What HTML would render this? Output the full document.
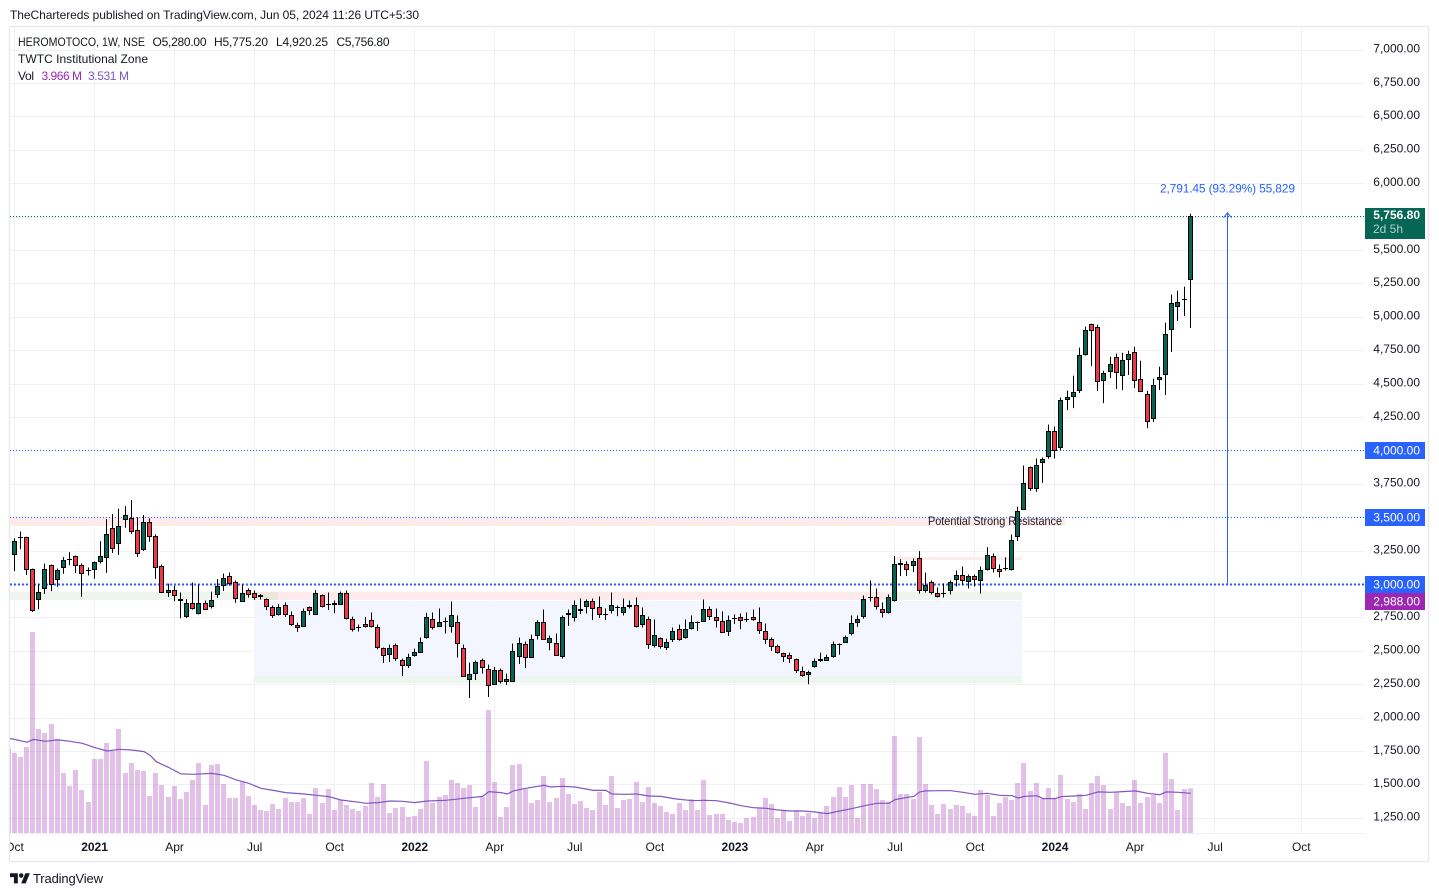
<!DOCTYPE html>
<html lang="en">
<head>
<meta charset="utf-8">
<title>HEROMOTOCO weekly chart</title>
<style>
html,body{margin:0;padding:0;background:#fff;width:1439px;height:896px;overflow:hidden}
svg{display:block;position:absolute;left:0;top:0}
text{font-family:"Liberation Sans",sans-serif;font-size:12px;fill:#131722}
</style>
</head>
<body>
<svg id="root" width="1439" height="896" viewBox="0 0 1439 896" xmlns="http://www.w3.org/2000/svg">
  <defs>
    <clipPath id="pane-clip"><rect x="10" y="27" width="1355" height="806"/></clipPath>
    <clipPath id="time-clip"><rect x="10" y="835" width="1355" height="25"/></clipPath>
  </defs>
  <text x="10" y="19" textLength="409" lengthAdjust="spacing">TheChartereds published on TradingView.com, Jun 05, 2024 11:26 UTC+5:30</text>
  <rect x="9.5" y="26.5" width="1419" height="835" fill="none" stroke="#e8eaf0" stroke-width="1.5"/>

  <g id="grid"></g>
  <g clip-path="url(#pane-clip)">
    <g>
      <rect x="10" y="517" width="1055" height="9" fill="#fdebec"/>
      <rect x="10" y="592" width="268" height="8" fill="#edf5ee"/>
      <rect x="254" y="592" width="24" height="8" fill="#ece6dc"/>
      <rect x="278" y="592" width="616" height="8" fill="#fdebec"/>
      <rect x="894" y="592" width="128" height="8" fill="#edf5ee"/>
      <rect x="894" y="557" width="128" height="3" fill="#fdebec"/>
      <rect x="254" y="601" width="768" height="75" fill="#f3f6fe"/>
      <rect x="254" y="676" width="768" height="7" fill="#edf5ee"/>
      <text x="928" y="525" textLength="134" lengthAdjust="spacingAndGlyphs">Potential Strong Resistance</text>
    </g>
    <g id="volume"></g>
    <polyline id="vol-ma" fill="none" stroke="#7e57c2" stroke-width="1.2"></polyline>
    <g id="levels"></g>
    <g id="candles"></g>
    <g>
      <line id="range-line" x1="1227.5" x2="1227.5" stroke="#2962ff" stroke-width="1"/>
      <polyline id="range-head" fill="none" stroke="#2962ff" stroke-width="1"/>
      <text x="1160" y="192.6" textLength="135" lengthAdjust="spacing" style="fill:#2962ff">2,791.45 (93.29%) 55,829</text>
    </g>
  </g>

  <rect x="10" y="833" width="1355" height="1" fill="#eef0f5"/>
  <g id="price-axis"></g>
  <g id="price-tags"></g>
  <g id="time-axis" clip-path="url(#time-clip)"></g>

  <g>
    <text x="18" y="46" textLength="127" lengthAdjust="spacingAndGlyphs">HEROMOTOCO, 1W, NSE</text>
    <text x="152.5" y="46" textLength="54" lengthAdjust="spacing">O5,280.00</text>
    <text x="214" y="46" textLength="54" lengthAdjust="spacing">H5,775.20</text>
    <text x="276" y="46" textLength="52" lengthAdjust="spacing">L4,920.25</text>
    <text x="336.5" y="46" textLength="53" lengthAdjust="spacing">C5,756.80</text>
    <text x="18" y="63" textLength="130" lengthAdjust="spacing">TWTC Institutional Zone</text>
    <text x="18" y="80" textLength="16" lengthAdjust="spacing">Vol</text>
    <text x="41.5" y="80" textLength="40.5" lengthAdjust="spacing" style="fill:#9c27b0">3.966 M</text>
    <text x="88" y="80" textLength="41" lengthAdjust="spacing" style="fill:#7e57c2">3.531 M</text>
  </g>

  <g>
    <g transform="translate(10,871) scale(0.56)" fill="#131722">
      <path d="M14 22H7V11H0V4h14v18zM28 22h-8l7.5-18h8L28 22z"/>
      <circle cx="20" cy="8" r="4"/>
    </g>
    <text x="33" y="883" textLength="70" lengthAdjust="spacing" style="font-size:13px">TradingView</text>
  </g>
</svg>

<script>
const opens = [3224,3350,3352,3117,2887,2970,3147,3030,3120,3185,
3215,3147,3103,3112,3165,3202,3420,3300,3480,3495,
3405,3255,3465,3360,3135,2940,2962,2880,2757,2865,
2780,2865,2835,2925,2992,3067,3015,2872,2962,2940,
2908,2888,2835,2775,2850,2775,2700,2685,2828,2775,
2925,2850,2865,2850,2940,2745,2676,2708,2738,2685,
2528,2473,2550,2438,2390,2468,2490,2603,2745,2685,
2721,2685,2723,2528,2288,2333,2438,2370,2250,2363,
2273,2273,2460,2558,2453,2618,2723,2565,2565,2458,
2790,2750,2820,2835,2880,2835,2768,2805,2828,2790,
2828,2850,2700,2745,2543,2603,2525,2588,2670,2603,
2670,2718,2723,2813,2753,2730,2645,2743,2760,2738,
2753,2723,2655,2595,2543,2490,2475,2445,2355,2325,
2385,2430,2430,2460,2548,2565,2633,2715,2753,2903,
2910,2820,2783,2878,3158,3150,3135,3195,2955,3015,
2933,2931,2955,3030,3068,3015,3060,3023,3105,3210,
3113,3118,3105,3358,3561,3883,3718,3906,3951,4146,
4019,4383,4405,4450,4720,4953,4930,4525,4593,4705,
4563,4683,4743,4540,4428,4240,4533,4570,4908,5080,
5131,5280];
const highs = [3345,3397,3357,3120,3000,3157,3150,3120,3205,3242,
3217,3157,3127,3172,3325,3490,3527,3567,3587,3632,
3502,3520,3495,3375,3150,3007,2992,2940,2890,3015,
3000,2880,2947,3040,3082,3090,3030,3000,2970,2955,
2928,2895,2843,2853,2865,2798,2715,2820,2835,2958,
2925,2940,2880,2948,2955,2760,2700,2758,2790,2700,
2528,2550,2558,2445,2483,2520,2603,2788,2790,2820,
2753,2873,2768,2550,2415,2430,2445,2400,2383,2370,
2333,2558,2603,2573,2625,2733,2813,2618,2633,2768,
2813,2880,2895,2888,2895,2910,2820,2940,2843,2895,
2880,2903,2828,2760,2738,2603,2595,2678,2700,2738,
2768,2723,2888,2835,2820,2798,2768,2775,2783,2790,
2813,2828,2708,2603,2550,2490,2490,2445,2385,2355,
2445,2490,2475,2573,2558,2618,2768,2768,2918,3030,
2970,2865,2925,3213,3190,3173,3195,3250,3090,3030,
2978,3008,3030,3105,3135,3075,3075,3135,3280,3233,
3150,3203,3373,3583,3891,3883,3943,3951,4198,4183,
4400,4450,4563,4773,4930,4953,4945,4600,4705,4728,
4735,4750,4780,4675,4450,4540,4630,4960,5170,5200,
5230,5775.2];
const lows = [3100,3265,3072,2795,2815,2930,2950,2982,3080,3145,
3085,2907,3067,3042,3157,3087,3237,3222,3425,3380,
3207,3252,3320,3042,2940,2907,2875,2747,2750,2812,
2775,2812,2820,2900,2952,2992,2862,2870,2902,2885,
2888,2808,2750,2768,2758,2690,2645,2683,2773,2773,
2828,2808,2785,2850,2738,2648,2648,2678,2678,2515,
2413,2420,2428,2315,2375,2460,2488,2595,2663,2683,
2633,2640,2453,2308,2150,2285,2333,2158,2248,2258,
2248,2270,2405,2375,2450,2588,2588,2508,2465,2445,
2690,2723,2778,2783,2733,2750,2733,2783,2763,2768,
2820,2678,2678,2518,2528,2520,2510,2570,2580,2595,
2663,2653,2723,2735,2678,2640,2615,2705,2665,2720,
2728,2630,2555,2503,2483,2420,2413,2338,2310,2253,
2378,2420,2430,2453,2475,2563,2618,2683,2745,2873,
2813,2753,2783,2873,3063,3063,3093,2933,2940,2925,
2903,2903,2925,2985,2998,2970,2985,2933,3105,3090,
3053,3105,3105,3326,3560,3701,3693,3761,3941,3943,
4006,4305,4320,4433,4713,4635,4448,4358,4545,4463,
4455,4568,4470,4440,4170,4215,4455,4418,4740,4973,
5010,4920.25];
const closes = [3329,3354,3112,2805,2947,3117,3000,3112,3180,3189,
3135,3075,3107,3165,3210,3375,3262,3435,3517,3390,
3225,3465,3352,3120,2940,2962,2917,2895,2865,2820,
2865,2812,2887,2992,3052,3007,2895,2940,2925,2900,
2918,2835,2765,2835,2775,2698,2678,2805,2798,2933,
2835,2853,2843,2933,2745,2663,2680,2685,2683,2528,
2468,2528,2445,2390,2460,2498,2573,2753,2675,2723,
2725,2775,2558,2310,2333,2423,2378,2240,2363,2273,
2295,2505,2565,2453,2595,2723,2588,2603,2468,2760,
2768,2850,2805,2873,2820,2775,2778,2843,2835,2828,
2843,2685,2768,2550,2625,2530,2573,2655,2588,2670,
2723,2722,2820,2753,2730,2640,2738,2747,2730,2745,
2738,2655,2588,2535,2490,2460,2445,2355,2318,2348,
2430,2445,2460,2558,2552,2610,2715,2745,2895,2910,
2835,2783,2910,3150,3143,3105,3173,2948,3000,2933,
2910,2935,3015,3068,3023,3060,3035,3105,3218,3113,
3090,3122,3336,3553,3763,3718,3898,3936,4146,3996,
4383,4405,4443,4720,4908,4900,4518,4585,4653,4585,
4683,4728,4525,4443,4218,4495,4555,4878,5110,5118,
5135,5756.8];
const volumesM = [7.09,6.74,7.62,17.76,9.21,8.85,9.65,8.32,5.32,4.18,
5.59,3.82,2.76,6.56,6.56,7.97,7.26,9.21,5.32,6.21,
5.59,5.50,3.29,5.32,4.26,3.21,4.18,3.03,3.65,4.71,
6.21,2.50,6.03,6.12,4.35,3.12,3.12,4.53,3.29,2.50,
2.06,1.97,2.59,2.15,3.12,2.76,2.76,3.12,1.71,4.00,
2.68,3.91,2.06,2.94,2.50,2.15,1.97,2.41,4.44,3.21,
4.35,1.79,2.24,2.32,1.44,1.53,2.15,6.38,2.68,3.21,
3.38,4.71,4.44,4.00,4.26,2.32,3.21,10.88,4.53,1.44,
2.32,6.03,6.12,3.91,2.68,2.94,5.06,2.76,3.12,4.88,
3.47,2.59,2.85,2.24,2.06,3.65,2.50,5.06,2.24,2.94,
3.03,4.53,2.76,4.09,2.68,2.41,1.88,1.71,2.68,2.06,
3.03,2.06,4.71,1.62,1.71,1.71,1.18,1.00,0.91,1.35,
1.44,2.24,3.12,2.59,1.35,1.97,1.09,2.06,1.53,1.79,
1.35,1.79,2.41,3.21,4.09,3.21,4.26,1.35,4.35,4.35,
3.91,2.94,2.79,8.59,3.47,3.47,3.03,8.50,4.35,2.50,
1.71,2.59,2.15,2.50,2.41,1.79,1.53,3.82,3.38,1.53,
2.68,3.21,2.94,4.44,6.21,3.74,4.44,3.03,4.00,3.03,
5.15,3.03,2.76,3.47,2.15,4.44,5.06,4.26,2.15,3.65,
2.68,2.41,4.71,2.68,3.21,3.38,2.68,7.09,4.79,2.06,
3.91,3.966];
const offscreenVolumeM = 7.44;
const volMaBars = [-1,0,2,3,5,7,9,11,13,15,17,19,21,22,23,25,27,29,32,34,36,38,40,42,44,47,49,51,53,56,57,59,61,63,65,67,70,73,76,77,79,80,81,83,86,87,89,91,94,96,97,99,101,103,105,107,110,112,114,116,118,120,122,124,126,128,130,132,134,136,138,140,142,143,145,146,147,148,150,152,154,156,158,160,162,163,164,166,167,169,170,172,174,176,178,180,182,184,186,187,189,191];
const volMaValues = [8.38,8.29,8.03,8.29,8.12,8.24,8.12,7.94,7.56,7.26,7.41,7.35,7.21,6.88,6.32,5.82,5.24,5.21,5.29,5.12,4.71,4.41,3.97,3.79,3.59,3.47,3.35,3.24,2.94,2.74,2.65,2.71,2.85,2.82,2.71,2.85,2.91,3.09,3.26,3.68,3.59,3.47,3.74,3.97,4.24,4.09,4.15,4.09,3.79,3.79,3.47,3.44,3.47,3.29,3.26,3.06,2.88,2.91,2.88,2.68,2.44,2.26,2.21,2.06,1.97,1.97,1.88,1.74,1.97,2.18,2.44,2.65,2.65,2.97,3.18,3.24,3.65,3.74,3.76,3.76,3.62,3.44,3.53,3.35,3.32,3.12,3.26,3.32,3.06,3.06,3.24,3.29,3.35,3.65,3.62,3.68,3.74,3.53,3.41,3.65,3.62,3.531];
const priceTicks = [7000,6750,6500,6250,6000,5750,5500,5250,5000,4750,4500,4250,4000,3750,3500,3250,3000,2750,2500,2250,2000,1750,1500,1250];
const timeLabels = ['Oct','2021','Apr','Jul','Oct','2022','Apr','Jul','Oct','2023','Apr','Jul','Oct','2024','Apr','Jul','Oct'];
const timeBars = [0,13,26,39,52,65,78,91,104,117,130,143,156,169,182,195,209];
const levelPrices = [4000,3500,3000];
const lastPrice = 5756.8;
const lineMarkerPrice = 2988;
const rangeTopPrice = 5775.2;
const rangeBottomPrice = 3000;

const NS = 'http://www.w3.org/2000/svg';
const xOf = i => 14.2 + i * 6.157;
const yOf = p => 584.5 - (p - 3000) * 0.1336;
const yVol = v => 833.3 - v * 11.33;
const crisp = v => Math.floor(v) + 0.5;
const fmt = p => p.toLocaleString('en-US', {minimumFractionDigits: 2, maximumFractionDigits: 2});
function mk(tag, attrs, parent) {
  const el = document.createElementNS(NS, tag);
  for (const k in attrs) el.setAttribute(k, attrs[k]);
  parent.appendChild(el);
  return el;
}
const grid = document.getElementById('grid');
const GRID = '#eff1f5';
priceTicks.forEach(p => {
  const y = crisp(yOf(p));
  const g = mk('line', {x1: 10, x2: 1365, y1: y, y2: y, stroke: GRID, 'stroke-width': 1}, grid);
  
  
});
timeBars.forEach(b => {
  const x = crisp(xOf(b));
  const g = mk('line', {x1: x, x2: x, y1: 27, y2: 833, stroke: GRID, 'stroke-width': 1}, grid);
  
  
});

const volG = document.getElementById('volume');
[offscreenVolumeM].concat(volumesM).forEach((v, n) => {
  const i = n - 1;
  const x = Math.floor(xOf(i)) - 2;
  const y = yVol(v);
  const r = mk('rect', {x: x, y: y, width: 5, height: 833.3 - y, fill: 'rgba(156,39,176,0.29)'}, volG);
  
  
});
document.getElementById('vol-ma').setAttribute('points',
  volMaBars.map((b, i) => (xOf(b) + 0.5).toFixed(1) + ',' + yVol(volMaValues[i]).toFixed(1)).join(' '));

const lv = document.getElementById('levels');
levelPrices.forEach(p => {
  const y = crisp(yOf(p));
  const heavy = p === 3000;
  const l = mk('line', {x1: 10, x2: 1365, y1: y, y2: y, stroke: '#2962ff', 'stroke-width': heavy ? 2 : 1, 'stroke-dasharray': heavy ? '2 2' : '1 2'}, lv);
  
  
});
{
  const y = crisp(yOf(lastPrice));
  const l = mk('line', {x1: 10, x2: 1365, y1: y, y2: y, stroke: '#056656', 'stroke-width': 1, 'stroke-dasharray': '1 2'}, lv);
  
  
}

const cg = document.getElementById('candles');
const UP = '#056656', DOWN = '#f23645';
opens.forEach((o, i) => {
  const c = closes[i];
  const cx = Math.floor(xOf(i)) + 0.5;
  const g = mk('g', {}, cg);
  
  
  const w = mk('line', {x1: cx, x2: cx, y1: yOf(highs[i]), y2: yOf(lows[i]), stroke: '#000', 'stroke-width': 1}, g);
  
  
  const top = Math.round(yOf(Math.max(o, c))) + 0.5;
  const bot = Math.round(yOf(Math.min(o, c))) - 0.5;
  const h = bot - top;
  if (h < 1) {
    const d = mk('line', {x1: cx - 2.5, x2: cx + 2.5, y1: top, y2: top, stroke: '#000', 'stroke-width': 1}, g);
    
    
  } else {
    const b = mk('rect', {x: cx - 2, y: top, width: 4, height: h, fill: c >= o ? UP : DOWN, stroke: '#000', 'stroke-width': 1}, g);
    
    
  }
});

const rl = document.getElementById('range-line');
rl.setAttribute('y1', yOf(rangeBottomPrice));
rl.setAttribute('y2', yOf(rangeTopPrice));
const tipY = yOf(rangeTopPrice) - 1;
document.getElementById('range-head').setAttribute('points',
  (1227.5 - 4) + ',' + (tipY + 5) + ' 1227.5,' + tipY + ' ' + (1227.5 + 4) + ',' + (tipY + 5));

const pa = document.getElementById('price-axis');
priceTicks.forEach(p => {
  const t = mk('text', {x: 1420, y: yOf(p) + 2.3, 'text-anchor': 'end'}, pa);
  t.textContent = fmt(p);
  
  
});

const tags = document.getElementById('price-tags');
levelPrices.forEach(p => {
  const y = crisp(yOf(p)) - 8.5;
  const r = mk('rect', {x: 1365, y: y, width: 60, height: 17, fill: '#2962ff'}, tags);
  
  
  const t = mk('text', {x: 1420, y: y + 12.3, 'text-anchor': 'end', style: 'fill:#fff'}, tags);
  t.textContent = fmt(p);
  
  
});
{
  const y0 = crisp(yOf(3000)) + 8.5;
  const r = mk('rect', {x: 1365, y: y0, width: 60, height: 17, fill: '#9c27b0'}, tags);
  
  
  const t = mk('text', {x: 1420, y: y0 + 12.3, 'text-anchor': 'end', style: 'fill:#fff'}, tags);
  t.textContent = fmt(lineMarkerPrice);
  
  

  const ty = crisp(yOf(lastPrice)) - 8.5;
  const lr = mk('rect', {x: 1365, y: ty, width: 60, height: 31, fill: '#056656'}, tags);
  
  
  const lt = mk('text', {x: 1420, y: ty + 11.2, 'text-anchor': 'end', style: 'fill:#fff;font-weight:bold'}, tags);
  lt.textContent = fmt(lastPrice);
  
  
  const cd = mk('text', {x: 1373, y: ty + 25.2, style: 'fill:#b4d1cb'}, tags);
  cd.textContent = '2d 5h';
  
  
}

const ta = document.getElementById('time-axis');
timeLabels.forEach((s, i) => {
  const t = mk('text', {x: xOf(timeBars[i]) + 0.3, y: 851, 'text-anchor': 'middle'}, ta);
  if (/^\d/.test(s)) t.setAttribute('style', 'font-weight:bold');
  t.textContent = s;
  
  
});
</script>
</body>
</html>
